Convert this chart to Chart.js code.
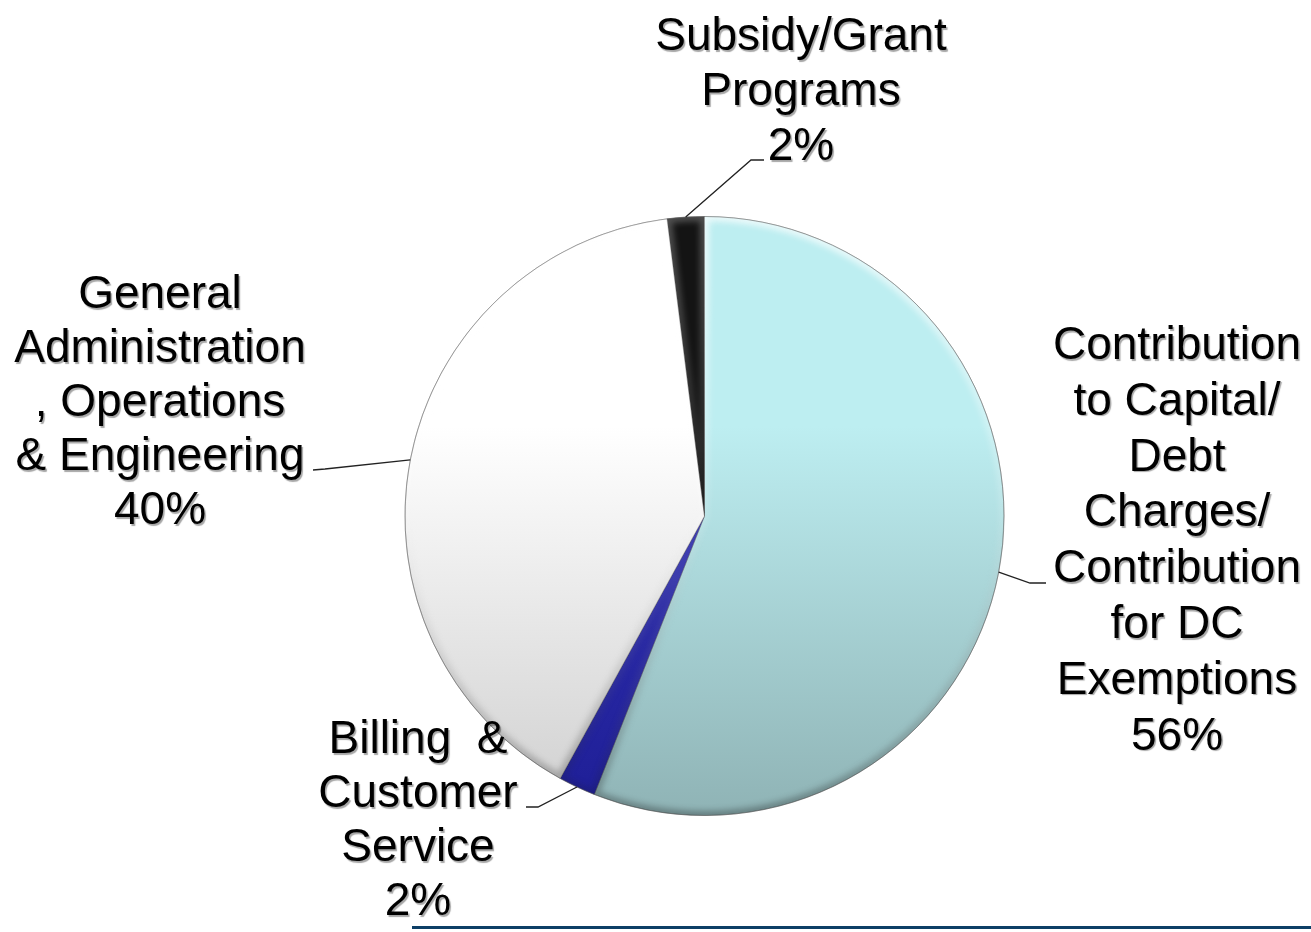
<!DOCTYPE html>
<html>
<head>
<meta charset="utf-8">
<script src="https://cdn.jsdelivr.net/npm/chart.js@4.4.1/dist/chart.umd.min.js"></script>
<style>
  html, body { margin: 0; padding: 0; background: #fff; }
  #wrap { position: relative; width: 1311px; height: 932px; }
</style>
</head>
<body>
<div id="wrap"><canvas id="pieChart" width="1311" height="932"></canvas></div>
<script>
// Expense breakdown (%), clockwise from 12 o'clock
const categories = [
    'Contribution to Capital/ Debt Charges/ Contribution for DC Exemptions',
    'Billing & Customer Service',
    'General Administration, Operations & Engineering',
    'Subsidy/Grant Programs'
];
const shares = [56, 2, 40, 2];

// label text, one entry per line as printed beside the pie
const labelLines = [
    ['Contribution', 'to Capital/', 'Debt', 'Charges/', 'Contribution', 'for DC', 'Exemptions', '56%'],
    ['Billing  &', 'Customer', 'Service', '2%'],
    ['General', 'Administration', ', Operations', '& Engineering', '40%'],
    ['Subsidy/Grant', 'Programs', '2%']
];

// where each label block sits and how its leader line bends
const labelLayout = [
    { x: 1177, y: 359, step: 55.8, elbow: [1030, 583], end: [1046, 583] },
    { x: 418,  y: 753, step: 54,   elbow: [538, 807],  end: [526, 807] },
    { x: 160,  y: 308, step: 54,   elbow: [325, 469],  end: [313, 470] },
    { x: 801,  y: 50,  step: 55,   elbow: [751, 160],  end: [764, 160] }
];

const sliceTop = ['#bdeef1', '#3434b4', '#ffffff', '#141414'];
const sliceBottom = ['#8fb3b5', '#1e1e96', '#cfcfcf', '#050505'];
const bevelStrength = [1, 0.6, 1, 0.35];

function sliceFill(context) {
    const chart = context.chart;
    const area = chart.chartArea;
    if (!area) return sliceTop[context.dataIndex];
    const g = chart.ctx.createLinearGradient(0, area.top, 0, area.bottom);
    g.addColorStop(0, sliceTop[context.dataIndex]);
    g.addColorStop(0.35, sliceTop[context.dataIndex]);
    g.addColorStop(1, sliceBottom[context.dataIndex]);
    return g;
}

function arcPath(ctx, a) {
    ctx.beginPath();
    ctx.moveTo(a.x, a.y);
    ctx.arc(a.x, a.y, a.outerRadius, a.startAngle, a.endAngle);
    ctx.closePath();
}

// soft bevel along each slice edge
const bevel = {
    id: 'bevel',
    afterDatasetsDraw(chart) {
        const ctx = chart.ctx;
        const area = chart.chartArea;
        chart.getDatasetMeta(0).data.forEach((a, i) => {
            ctx.save();
            arcPath(ctx, a);
            ctx.clip();
            const g = ctx.createLinearGradient(0, area.top, 0, area.bottom);
            g.addColorStop(0, 'rgba(255,255,255,0.75)');
            g.addColorStop(0.5, 'rgba(255,255,255,0.15)');
            g.addColorStop(1, 'rgba(0,0,0,0.3)');
            ctx.globalAlpha = bevelStrength[i];
            ctx.filter = 'blur(3px)';
            ctx.lineWidth = 9;
            ctx.strokeStyle = g;
            arcPath(ctx, a);
            ctx.stroke();
            ctx.restore();
        });
        // thin rim
        const first = chart.getDatasetMeta(0).data[0];
        ctx.save();
        ctx.beginPath();
        ctx.arc(first.x, first.y, first.outerRadius, 0, Math.PI * 2);
        ctx.lineWidth = 1;
        ctx.strokeStyle = 'rgba(90,90,90,0.45)';
        ctx.stroke();
        ctx.restore();
    }
};

// category labels with leader lines
const outsideLabels = {
    id: 'outsideLabels',
    afterDraw(chart) {
        const ctx = chart.ctx;
        chart.getDatasetMeta(0).data.forEach((a, i) => {
            const lay = labelLayout[i];
            const mid = (a.startAngle + a.endAngle) / 2;
            const px = a.x + Math.cos(mid) * a.outerRadius;
            const py = a.y + Math.sin(mid) * a.outerRadius;

            ctx.save();
            ctx.strokeStyle = '#222';
            ctx.lineWidth = 1.3;
            ctx.beginPath();
            ctx.moveTo(px, py);
            ctx.lineTo(lay.elbow[0], lay.elbow[1]);
            ctx.lineTo(lay.end[0], lay.end[1]);
            ctx.stroke();
            ctx.restore();

            ctx.save();
            ctx.font = '46px "Liberation Sans", Arial, sans-serif';
            ctx.fillStyle = '#000';
            ctx.textAlign = 'center';
            ctx.textBaseline = 'alphabetic';
            ctx.shadowColor = 'rgba(0,0,0,0.35)';
            ctx.shadowOffsetX = 1.5;
            ctx.shadowOffsetY = 1.5;
            ctx.shadowBlur = 1;
            labelLines[i].forEach((line, k) => {
                ctx.fillText(line, lay.x, lay.y + k * lay.step);
            });
            ctx.restore();
        });

        // rule under the chart
        ctx.save();
        ctx.fillStyle = '#0d3f66';
        ctx.fillRect(412, 926, 899, 3);
        ctx.restore();
    }
};

new Chart(document.getElementById('pieChart'), {
    type: 'pie',
    data: {
        labels: categories,
        datasets: [{
            data: shares,
            backgroundColor: sliceFill,
            borderColor: 'rgba(60,60,60,0.35)',
            borderWidth: 1
        }]
    },
    options: {
        responsive: false,
        animation: false,
        layout: { padding: { left: 404, right: 306, top: 216, bottom: 116 } },
        plugins: {
            legend: { display: false },
            tooltip: { enabled: false }
        }
    },
    plugins: [bevel, outsideLabels]
});
</script>
</body>
</html>
